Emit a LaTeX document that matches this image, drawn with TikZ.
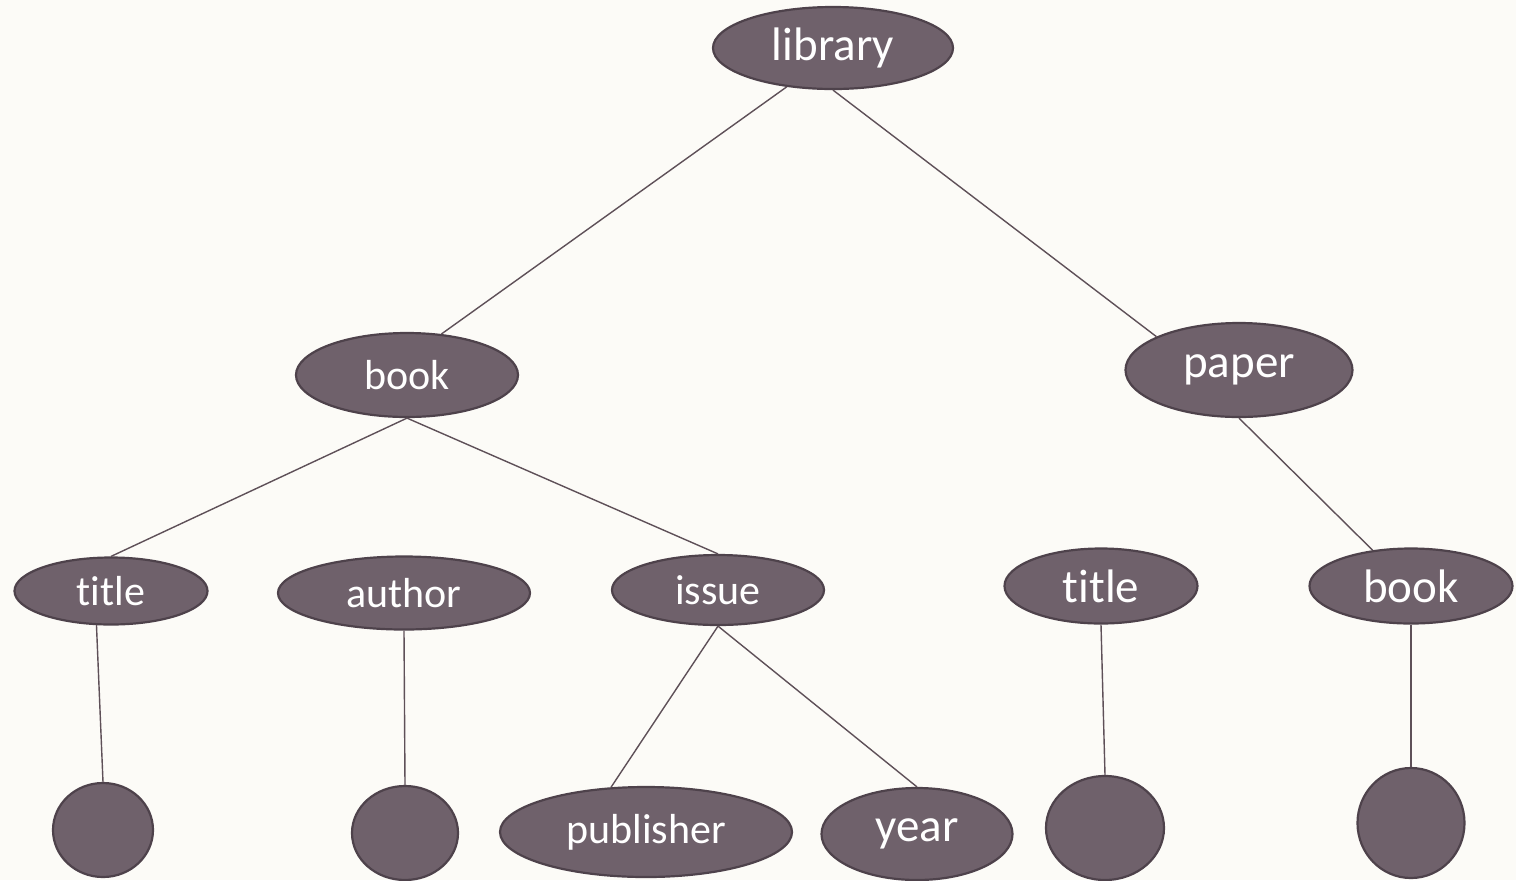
\documentclass[tikz,border=0pt]{standalone}
\usepackage{fontspec}
\setmainfont{Carlito}[Ligatures=NoCommon]
\definecolor{pagebg}{HTML}{FCFBF7}
\definecolor{elfill}{HTML}{6F616B}
\definecolor{eldraw}{HTML}{4E424B}
\definecolor{edgecol}{HTML}{5E5058}
\usetikzlibrary{shapes.geometric}

\begin{document}
\begin{tikzpicture}[x=0.5pt,y=-0.5pt,
  elem/.style={ellipse,draw=eldraw,line width=1.1pt,fill=elfill,text=white,inner sep=0pt,font=\fontsize{21}{25}\selectfont},
  elbig/.style={elem,font=\fontsize{23.5}{28}\selectfont},
  edge/.style={draw=edgecol,line width=0.7pt}]
  \fill[pagebg] (0,0) rectangle (1516,880);
  \useasboundingbox (0,0) rectangle (1516,880);
  % top two levels
  \node[elbig,minimum width=120pt,minimum height=41pt] (library) at (833,48) {library};
  \node[elem,minimum width=111pt,minimum height=42pt] (book) at (407,375) {book};
  \node[elbig,minimum width=113.5pt,minimum height=47pt] (paper) at (1239,370) {paper};
  % third level
  \node[elem,minimum width=96.5pt,minimum height=33.5pt] (titleA) at (111,591) {title};
  \node[elem,minimum width=126pt,minimum height=36.5pt] (author) at (404,593) {author};
  \node[elem,minimum width=106pt,minimum height=35pt] (issue) at (718,590) {issue};
  \node[elbig,minimum width=96.5pt,minimum height=37.5pt] (titleB) at (1101,586) {title};
  \node[elbig,minimum width=101.5pt,minimum height=37.5pt] (bookB) at (1411,586) {book};
  % leaves
  \node[elem,minimum width=50pt,minimum height=47pt] (leafA) at (103,830) {};
  \node[elem,minimum width=53pt,minimum height=47pt] (leafB) at (405,833) {};
  \node[elem,minimum width=146pt,minimum height=45pt] (publisher) at (646,832) {publisher};
  \node[elbig,minimum width=95.5pt,minimum height=46pt] (year) at (917,834) {year};
  \node[elem,minimum width=59pt,minimum height=52pt] (leafC) at (1105,828) {};
  \node[elem,minimum width=53.5pt,minimum height=55pt] (leafD) at (1411,823) {};
  % connectors
  \draw[edge] (library.220) -- (book.50);
  \draw[edge] (library.south) -- (paper.158);
  \draw[edge] (book.south) -- (titleA.north);
  \draw[edge] (book.south) -- (issue.north);
  \draw[edge] (paper.south) -- (bookB.137);
  \draw[edge] (titleA.247) -- (leafA.north);
  \draw[edge] (author.south) -- (leafB.north);
  \draw[edge] (issue.south) -- (publisher.128);
  \draw[edge] (issue.south) -- (year.north);
  \draw[edge] (titleB.south) -- (leafC.north);
  \draw[edge] (bookB.south) -- (leafD.north);
\end{tikzpicture}
\end{document}
